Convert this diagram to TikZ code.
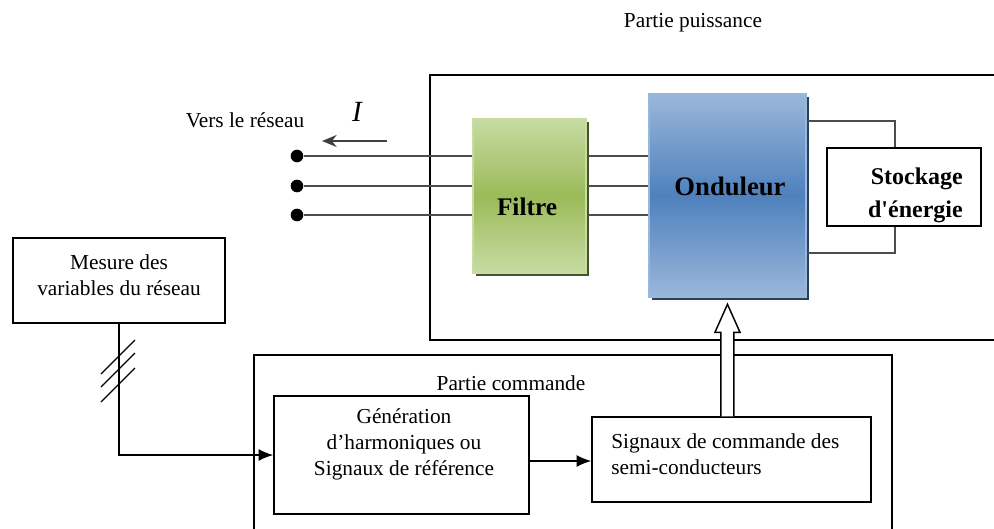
\documentclass[tikz,border=0pt]{standalone}
\usepackage{fontspec}
\setmainfont{Liberation Serif}[Ligatures=TeXOff]
\usetikzlibrary{shadows,arrows.meta}

\definecolor{filtregreen}{HTML}{9BBB59}
\definecolor{filtrelight}{HTML}{C7DBA3}
\definecolor{ondblue}{HTML}{4F81BD}
\definecolor{ondlight}{HTML}{9AB7DA}

\tikzset{
  txt/.style={font=\fontsize{16}{19.5}\selectfont, align=center, inner sep=0pt},
  bigtxt/.style={font=\fontsize{19}{25}\selectfont\bfseries, inner sep=0pt},
  box/.style={draw, line width=1.1pt, inner sep=0pt},
  part/.style={draw, line width=2.2pt},
  wire/.style={draw=black!70, line width=1.3pt},
  dot/.style={circle, fill=black, inner sep=0pt, minimum size=9.5pt},
  sig/.style={line width=1.2pt, -{Latex[length=11pt,width=9pt]}},
}

\begin{document}
\begin{tikzpicture}[x=0.75pt,y=-0.75pt]
  \useasboundingbox (0,0) rectangle (994,528);

  % les deux parties
  \draw[part] (430,75) rectangle (1000,340);
  \draw[part] (254,355) rectangle (892,540);
  \node[txt] (puissance) at (693,23)  {Partie puissance};
  \node[txt] (commande)  at (511,383) {Partie commande};

  % blocs de puissance
  \node[box, draw=filtrelight, minimum width=84.75pt, minimum height=115.5pt,
        top color=filtrelight, bottom color=filtrelight, middle color=filtregreen,
        drop shadow={shadow xshift=2.5pt, shadow yshift=-2.5pt, fill=filtregreen!45!black, opacity=1}]
        (filtre) at (529.5,196) {};
  \node[box, draw=ondlight, minimum width=117.75pt, minimum height=152.25pt,
        top color=ondlight, bottom color=ondlight, middle color=ondblue,
        drop shadow={shadow xshift=2.5pt, shadow yshift=-2.5pt, fill=ondblue!50!black, opacity=1}]
        (onduleur) at (727.5,195.5) {};
  \node[box, minimum width=115.5pt, minimum height=58.5pt] (stockage) at (904,187) {};

  \node[bigtxt] at (527,207) {Filtre};
  \node[bigtxt, font=\fontsize{20}{25}\selectfont\bfseries] at (730,186) {Onduleur};
  \node[bigtxt, font=\fontsize{18}{25}\selectfont\bfseries, align=right, anchor=east]
        at (963,195) {Stockage\\d'énergie};

  % liaison au stockage
  \draw[wire] ([yshift=-21pt]onduleur.north east) -| ([xshift=-6.75pt]stockage.north);
  \draw[wire] ([yshift=33.75pt]onduleur.south east) -| ([xshift=-6.75pt]stockage.south);

  % les trois phases
  \foreach \y/\n in {156/a,186/b,215/c} {
    \node[dot] (p\n) at (297,\y) {};
    \draw[wire] (p\n) -- (p\n -| filtre.west);
    \draw[wire] (p\n -| filtre.east) -- (p\n -| onduleur.west);
  }

  \node[txt] (reseau) at (245,120) {Vers le réseau};
  \node[font=\fontsize{22}{22}\selectfont\itshape, inner sep=0pt] (courant) at (357,112) {I};
  \coordinate (ia) at (387,141);
  \coordinate (ib) at (322,141);
  \draw[black!75, line width=1.5pt, -{Stealth[length=11pt,width=9pt]}] (ia) -- (ib);

  % partie commande
  \node[box, minimum width=159pt, minimum height=63.75pt] (mesure) at (119,280.5) {};
  \node[box, minimum width=191.25pt, minimum height=88.5pt] (generation) at (401.5,455) {};
  \node[box, minimum width=209.25pt, minimum height=63.75pt] (signaux) at (731.5,459.5) {};

  \node[txt] at (119,275) {Mesure des\\variables du réseau};
  \node[txt] at (404,444.5) {Génération\\d’harmoniques ou\\Signaux de référence};
  \node[txt, align=left, anchor=west] at (611,454.5) {Signaux de commande des\\semi-conducteurs};

  \draw[sig] (mesure.south) |- (generation.west);
  \foreach \y in {357,370,385}
    \draw[line width=1pt] (101,\y+17) -- (135,\y-17);

  \draw[sig] ([yshift=-4.5pt]generation.east) -- ([yshift=-4.5pt]generation.east -| signaux.west);

  % fleche de commande
  \coordinate (cmd) at (signaux.north -| onduleur.south);
  \draw[line width=1.1pt, fill=white] ([xshift=-4.9pt]cmd) -- ++(0,-84) -- ++(-6,0)
    -- ++(12.5,-28) -- ++(12.5,28) -- ++(-6,0) -- ++(0,84);

\end{tikzpicture}
\end{document}
